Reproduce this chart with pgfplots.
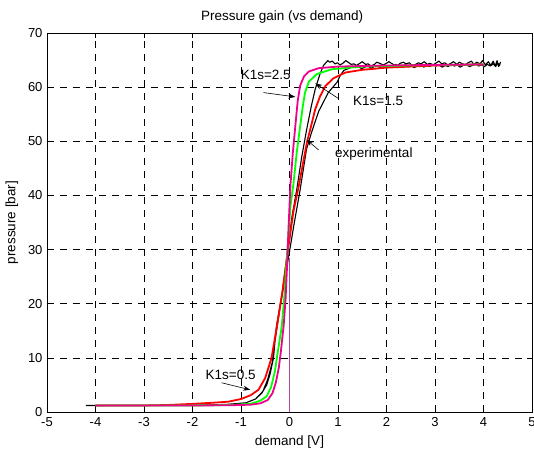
\documentclass[border=0pt]{standalone}
\usepackage{fontspec}
\setmainfont{Liberation Sans}
\usepackage{pgfplots}
\pgfplotsset{compat=1.18}
\usetikzlibrary{arrows.meta}
\definecolor{vline}{RGB}{185,70,150}

\begin{document}
\begin{tikzpicture}
\begin{axis}[
    name=ax,
    scale only axis,
    width=485pt, height=379pt,
    xmin=-5, xmax=5, ymin=0, ymax=70,
    xtick={-5,-4,...,5}, ytick={0,10,...,70},
    tick align=inside, major tick length=5pt,
    xtick pos=both, ytick pos=both,
    axis line style={line width=0.9pt},
    tick style={black, line width=0.7pt},
    grid=major,
    major grid style={black, line width=0.7pt, dash pattern=on 7pt off 6pt},
    /pgf/number format/assume math mode=true,
    tick label style={font=\fontsize{13}{15}\selectfont},
    xticklabel style={yshift=-2pt},
    yticklabel style={xshift=-1pt},
    title={Pressure gain (vs demand)},
    every axis title/.style={at={(axis description cs:0.485,1)}, anchor=center, yshift=15.5pt, font=\fontsize{13.5}{16}\selectfont},
    xlabel={demand [V]},
    ylabel={pressure [bar]},
    every axis x label/.style={at={(axis description cs:0.5,0)}, anchor=center, yshift=-30pt, font=\fontsize{13.5}{16}\selectfont},
    every axis y label/.style={at={(axis description cs:0,0.5)}, anchor=center, rotate=90, yshift=35pt, font=\fontsize{13.5}{16}\selectfont},
]
% vertical reference at zero demand
\addplot[vline, line width=1.6pt] coordinates {(0,0) (0,28.5)};

% experimental (hysteresis loop with noisy plateau)
\addplot[black, line width=1.1pt, line join=round] coordinates {
(-4.2,1.2) (-2,1.25) (-1.3,1.35) (-0.9,1.7) (-0.7,2.4) (-0.57,3.5) (-0.47,5) (-0.4,7)
(-0.33,10) (-0.27,15.8) (-0.15,22) (-0.05,29) (0.05,36) (0.15,41.1) (0.25,47) (0.35,52)
(0.45,56.5) (0.53,59.6) (0.62,62.2) (0.70,64)
(0.74,64.4) (0.79,64.9) (0.83,64.6) (0.88,64.8) (0.94,64.3) (0.99,64.5) (1.04,64.1) (1.1,64.4)
(1.16,64.9) (1.21,64.6) (1.27,64.2) (1.33,64.3) (1.38,64.0) (1.45,64.4) (1.5,64.7) (1.57,64.2)
(1.62,64.3) (1.68,63.9) (1.75,64.2) (1.8,64.6) (1.86,64.4) (1.93,64.1) (1.98,64.3) (2.05,64.7)
(2.1,64.4) (2.16,64.1) (2.23,64.0) (2.28,64.4) (2.35,64.6) (2.4,64.3) (2.47,64.5) (2.53,64.0)
(2.6,64.2) (2.66,64.5) (2.71,64.3) (2.78,64.7) (2.84,64.2) (2.9,64.4) (2.96,64.1) (3.03,64.5)
(3.08,64.8) (3.14,64.3) (3.2,64.5) (3.26,64.1) (3.33,64.4) (3.38,64.7) (3.45,64.2) (3.5,64.6)
(3.57,64.3) (3.62,64.1) (3.68,64.5) (3.75,64.8) (3.8,64.2) (3.86,64.6) (3.93,64.3) (3.98,64.9)
(4.04,64.1) (4.1,64.7) (4.15,64.0) (4.2,64.8) (4.24,63.9) (4.28,64.9) (4.31,63.8) (4.35,64.6)
(4.33,64.0) (4.29,64.5) (4.25,63.8) (4.2,64.3) (4.14,63.9) (4.08,64.2) (4.02,63.8) (3.96,64.1)
(3.9,63.9) (3.83,64.4) (3.77,64.0) (3.71,63.8) (3.64,64.2) (3.58,64.0) (3.52,63.7) (3.46,64.1)
(3.4,63.9) (3.33,64.2) (3.27,63.8) (3.21,64.0) (3.15,63.7) (3.08,64.1) (3.02,63.9) (2.95,64.2)
(2.89,63.8) (2.83,64.0) (2.77,63.7) (2.7,64.1) (2.64,63.9) (2.57,63.6) (2.51,64.0) (2.45,63.8)
(2.38,64.1) (2.32,63.7) (2.26,63.9) (2.19,64.2) (2.13,63.8) (2.07,64.0) (2.0,63.7) (1.94,63.9)
(1.87,63.6) (1.81,64.0) (1.75,63.8) (1.68,63.5) (1.62,63.9) (1.55,63.7) (1.49,63.4) (1.42,63.8)
(1.36,63.6) (1.3,63.9) (1.24,63.5) (1.18,63.3) (1.12,63.1)
(1.05,62.2) (0.98,60.9) (0.8,59) (0.6,55.5) (0.45,51.5) (0.35,48.5) (0.22,41.1)
(0.1,35) (-0.05,27) (-0.2,19) (-0.3,13) (-0.36,9) (-0.45,6) (-0.55,3.8) (-0.7,2.4)
(-0.9,1.7) (-1.3,1.4) (-2,1.25) (-4.2,1.2)
};

% K1s=0.5
\addplot[red, line width=1.8pt, line join=round] coordinates {
(-4,1.2) (-3,1.2) (-2.5,1.3) (-2,1.5) (-1.6,1.7) (-1.26,1.9) (-1.0,2.4) (-0.8,3.1)
(-0.64,4.1) (-0.5,6.3) (-0.37,10) (-0.26,15.8) (-0.15,22) (-0.03,30) (0.08,37) (0.19,41.7)
(0.28,46) (0.36,49.8) (0.45,53) (0.53,55.9) (0.63,58.3) (0.74,60.2) (0.9,61.6) (1.15,62.7)
(1.5,63.2) (2,63.6) (3,64) (4,64.2)
};

% K1s=1.5
\addplot[green, line width=1.8pt, line join=round] coordinates {
(-4,1.2) (-2,1.2) (-1.2,1.3) (-0.8,1.5) (-0.6,2.1) (-0.47,2.9) (-0.38,4.6) (-0.3,7.5)
(-0.26,10) (-0.16,15.8) (-0.1,22) (-0.05,29) (0.02,38) (0.08,42) (0.15,48) (0.22,52.8)
(0.28,56.8) (0.32,59) (0.4,61) (0.56,62.4) (0.87,63.3) (1.5,63.8) (2.5,64) (4,64.2)
};

% K1s=2.5
\addplot[magenta, line width=1.8pt, line join=round] coordinates {
(-4.0,1.2) (-3,1.2) (-2,1.2) (-1.2,1.25) (-0.8,1.35) (-0.6,1.6) (-0.45,2.2) (-0.35,3.5)
(-0.28,5.5) (-0.22,8.2) (-0.18,11) (-0.12,16) (-0.08,21) (-0.05,27) (-0.02,34) (0.02,42)
(0.07,48) (0.12,52.8) (0.17,57.5) (0.22,60.3) (0.3,62) (0.4,62.9) (0.6,63.5) (1,63.8)
(2,64) (3,64.1) (4,64.2)
};

% annotations
\node[font=\fontsize{13.5}{16}\selectfont] at (axis cs:-0.49,62.3) {K1s=2.5};
\draw[-{Stealth[length=7pt,width=5pt]}, line width=0.6pt] (axis cs:-0.54,59.0) -- (axis cs:0.12,58.2);
\node[font=\fontsize{13.5}{16}\selectfont, anchor=west] at (axis cs:1.24,57.5) {K1s=1.5};
\draw[-{Stealth[length=7pt,width=5pt]}, line width=0.6pt] (axis cs:1.01,57.9) -- (axis cs:0.53,60.7);
\node[font=\fontsize{13.5}{16}\selectfont, anchor=west] at (axis cs:0.87,47.7) {experimental};
\draw[-{Stealth[length=7pt,width=5pt]}, line width=0.6pt] (axis cs:0.6,48.4) -- (axis cs:0.35,50.3);
\node[font=\fontsize{13.5}{16}\selectfont, anchor=west] at (axis cs:-1.8,6.9) {K1s=0.5};
\draw[-{Stealth[length=7pt,width=5pt]}, line width=0.6pt] (axis cs:-1.40,5.4) -- (axis cs:-0.81,4.1);
\end{axis}
\pgfresetboundingbox
\path ([shift={(-47pt,-40pt)}]ax.south west) rectangle ([shift={(2pt,33pt)}]ax.north east);
\end{tikzpicture}
\end{document}
